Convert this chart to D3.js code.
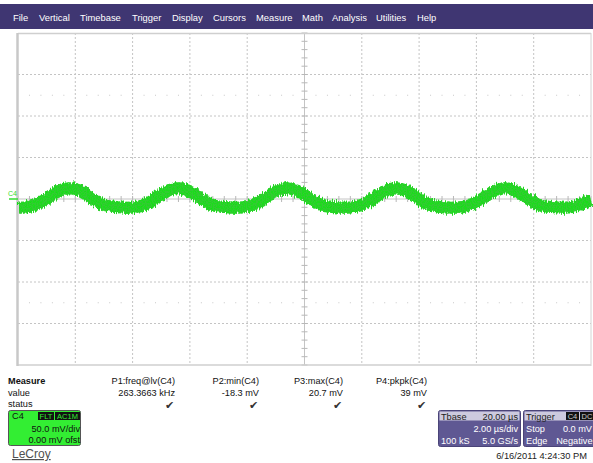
<!DOCTYPE html>
<html>
<head>
<meta charset="utf-8">
<script src="https://cdn.jsdelivr.net/npm/d3@7"></script>
<style>
  body { margin: 0; background: #fff; }
  svg { display: block; font-family: "Liberation Sans", Arial, sans-serif; }
</style>
</head>
<body>
<div id="scope"></div>
<script>
// menu
var menuItems = ["File", "Vertical", "Timebase", "Trigger", "Display", "Cursors", "Measure", "Math", "Analysis", "Utilities", "Help"];

// C4 trace, centre of the band in mV, one reading every 0.25 us (0 .. 20 us)
var sampleStepUs = 0.25;
var traceMv = [
  -10.5, -10.1, -8.3, -4.6, 0.4, 6.2, 10.9, 12.8, 12.0, 8.3,
  2.7, -3.2, -7.4, -9.1, -9.9, -10.5, -10.2, -8.7, -5.4, -0.7,
  5.0, 10.3, 12.8, 12.3, 9.3, 3.9, -2.1, -7.0, -8.8, -9.8,
  -10.5, -10.4, -9.1, -6.3, -1.7, 3.8, 9.4, 12.6, 12.5, 10.0,
  5.1, -0.9, -6.1, -8.6, -9.7, -10.3, -10.5, -9.5, -7.0, -2.7,
  2.7, 8.2, 12.2, 12.8, 10.7, 6.1, 0.4, -5.1, -8.2, -9.6,
  -10.2, -10.5, -9.9, -7.6, -3.6, 1.5, 7.2, 11.0, 13.0, 11.4,
  7.2, 1.5, -4.2, -7.8, -9.3, -10.1, -10.5, -10.1, -8.3, -4.5,
  -2.0
];

// measurement table
var measureNames = ["P1:freq@lv(C4)", "P2:min(C4)", "P3:max(C4)", "P4:pkpk(C4)"];
var measureValues = ["263.3663 kHz", "-18.3 mV", "20.7 mV", "39 mV"];

// settings
var timePerDivUs = 2;
var voltsPerDivMv = 50;
var divsX = 10, divsY = 8;

var W = 593, H = 463;
var svg = d3.select("#scope").append("svg")
    .attr("width", W)
    .attr("height", H);

var defs = svg.append("defs");
var f = defs.append("filter").attr("id", "noisy")
    .attr("x", "-2%").attr("y", "-60%").attr("width", "104%").attr("height", "220%");
f.append("feTurbulence").attr("type", "fractalNoise").attr("baseFrequency", "0.9 0.06")
    .attr("numOctaves", 2).attr("seed", 4).attr("result", "n");
f.append("feDisplacementMap").attr("in", "SourceGraphic").attr("in2", "n")
    .attr("scale", 7).attr("xChannelSelector", "B").attr("yChannelSelector", "G").attr("result", "d");
f.append("feTurbulence").attr("type", "fractalNoise").attr("baseFrequency", "0.8 0.6")
    .attr("numOctaves", 1).attr("seed", 11).attr("result", "n2");
f.append("feColorMatrix").attr("in", "n2").attr("type", "matrix")
    .attr("values", "0 0 0 0 0.03  0 0 0 0 0.6  0 0 0 0 0.03  9 0 0 0 -3.9").attr("result", "spots");
f.append("feComposite").attr("in", "spots").attr("in2", "d").attr("operator", "in").attr("result", "sp");
var fm = f.append("feMerge");
fm.append("feMergeNode").attr("in", "d");
fm.append("feMergeNode").attr("in", "sp");

// menu bar
svg.append("rect").attr("x", 0).attr("y", 4).attr("width", W).attr("height", 25).attr("fill", "#3f3672");
var menuX = [13, 39, 80, 132, 172, 213, 256, 302, 332, 376, 417];
svg.selectAll("text.menu")
  .data(menuItems)
  .enter().append("text")
  .attr("class", "menu")
  .attr("x", function(d, i) { return menuX[i]; })
  .attr("y", 20.5)
  .attr("fill", "#ffffff")
  .style("font-size", "9.4px")
  .text(function(d) { return d; });

// grid
var x = d3.scaleLinear().domain([0, divsX * timePerDivUs]).range([18, 591]);
var y = d3.scaleLinear().domain([-divsY / 2 * voltsPerDivMv, divsY / 2 * voltsPerDivMv]).range([365, 33]);

var grid = svg.append("g");
grid.selectAll("line.vx")
  .data(d3.range(1, divsX))
  .enter().append("line")
  .attr("x1", function(d) { return x(d * timePerDivUs); })
  .attr("x2", function(d) { return x(d * timePerDivUs); })
  .attr("y1", y.range()[1]).attr("y2", y.range()[0])
  .attr("stroke", "#c4c4c4")
  .attr("stroke-dasharray", function(d) { return d === divsX / 2 ? null : "2,2"; });
grid.selectAll("line.hy")
  .data(d3.range(1, divsY))
  .enter().append("line")
  .attr("y1", function(d) { return y((d - divsY / 2) * voltsPerDivMv); })
  .attr("y2", function(d) { return y((d - divsY / 2) * voltsPerDivMv); })
  .attr("x1", x.range()[0]).attr("x2", x.range()[1])
  .attr("stroke", "#c4c4c4")
  .attr("stroke-dasharray", function(d) { return d === divsY / 2 ? null : "2,2"; });

// minor ticks on centre axes
var minorX = d3.range(0, divsX * 5 + 1).map(function(i) { return i * timePerDivUs / 5; });
var minorY = d3.range(0, divsY * 5 + 1).map(function(i) { return -divsY / 2 * voltsPerDivMv + i * voltsPerDivMv / 5; });
grid.selectAll("line.tx")
  .data(minorX)
  .enter().append("line")
  .attr("x1", function(d) { return x(d); }).attr("x2", function(d) { return x(d); })
  .attr("y1", y(0) - 3).attr("y2", y(0) + 3)
  .attr("stroke", "#b8b8b8");
grid.selectAll("line.ty")
  .data(minorY)
  .enter().append("line")
  .attr("y1", function(d) { return y(d); }).attr("y2", function(d) { return y(d); })
  .attr("x1", x(10) - 3).attr("x2", x(10) + 3)
  .attr("stroke", "#b8b8b8");
// dotted rows
[-125, 125].forEach(function(mv) {
  grid.selectAll(null)
    .data(minorX.filter(function(d, i) { return i % 5 !== 0; }))
    .enter().append("rect")
    .attr("x", function(d) { return x(d) - 0.5; })
    .attr("y", y(mv) - 0.5)
    .attr("width", 1).attr("height", 1)
    .attr("fill", "#c8c8c8");
});

// border
grid.append("line").attr("x1", 18).attr("x2", 591).attr("y1", 33.5).attr("y2", 33.5).attr("stroke", "#cfcfcf").attr("stroke-width", 1.5);
grid.append("line").attr("x1", 18).attr("x2", 591).attr("y1", 365).attr("y2", 365).attr("stroke", "#cfcfcf").attr("stroke-width", 1.5);
grid.append("line").attr("x1", 17.5).attr("x2", 17.5).attr("y1", 33).attr("y2", 366).attr("stroke", "#c8c8c8").attr("stroke-width", 2.5);
grid.append("line").attr("x1", 591).attr("x2", 591).attr("y1", 33).attr("y2", 366).attr("stroke", "#d4d4d4").attr("stroke-width", 1);

// C4 marker
svg.append("text").attr("x", 8).attr("y", 196).attr("fill", "#33dd33").style("font-size", "7px").text("C4");
svg.append("line").attr("x1", 9).attr("x2", 18).attr("y1", y(0)).attr("y2", y(0)).attr("stroke", "#33dd33").attr("stroke-width", 1.5);

// trace
var line = d3.line()
    .x(function(d, i) { return x(i * sampleStepUs); })
    .y(function(d) { return y(d); })
    .curve(d3.curveCatmullRom);
svg.append("path")
  .datum(traceMv)
  .attr("d", line)
  .attr("fill", "none")
  .attr("stroke", "#1cdc1c")
  .attr("stroke-width", 12)
  .attr("filter", "url(#noisy)");

// measure table
var tbl = svg.append("g").style("font-size", "9.2px").attr("fill", "#111");
tbl.append("text").attr("x", 8).attr("y", 384).style("font-weight", "bold").text("Measure");
tbl.append("text").attr("x", 8).attr("y", 395.5).text("value");
tbl.append("text").attr("x", 8).attr("y", 407).text("status");
var colRight = [175, 259, 343, 427];
tbl.selectAll("text.mn")
  .data(measureNames)
  .enter().append("text")
  .attr("x", function(d, i) { return colRight[i]; })
  .attr("y", 384).attr("text-anchor", "end")
  .text(function(d) { return d; });
tbl.selectAll("text.mv")
  .data(measureValues)
  .enter().append("text")
  .attr("x", function(d, i) { return colRight[i]; })
  .attr("y", 395.5).attr("text-anchor", "end")
  .text(function(d) { return d; });
tbl.selectAll("text.ms")
  .data(measureNames)
  .enter().append("text")
  .attr("x", function(d, i) { return colRight[i] - 1; })
  .attr("y", 408.5).attr("text-anchor", "end")
  .attr("fill", "#333")
  .style("font-size", "11px")
  .text("\u2714");

// C4 channel box
var cb = svg.append("g").style("font-size", "9.2px");
cb.append("rect").attr("x", 8.5).attr("y", 410.5).attr("width", 72).attr("height", 35).attr("rx", 2)
  .attr("fill", "#33ee33").attr("stroke", "#555");
cb.append("text").attr("x", 12).attr("y", 419).attr("fill", "#111").text("C4");
cb.append("rect").attr("x", 38).attr("y", 412).attr("width", 16).attr("height", 8).attr("fill", "#111");
cb.append("rect").attr("x", 55).attr("y", 412).attr("width", 25).attr("height", 8).attr("fill", "#111");
cb.append("text").attr("x", 46).attr("y", 419).attr("text-anchor", "middle").attr("fill", "#33ee33").style("font-size", "7.5px").text("FLT");
cb.append("text").attr("x", 67.5).attr("y", 419).attr("text-anchor", "middle").attr("fill", "#33ee33").style("font-size", "7.5px").text("AC1M");
cb.append("text").attr("x", 80).attr("y", 432).attr("text-anchor", "end").attr("fill", "#111").text("50.0 mV/div");
cb.append("text").attr("x", 80).attr("y", 443).attr("text-anchor", "end").attr("fill", "#111").text("0.00 mV ofst");

// LeCroy
svg.append("text").attr("x", 12).attr("y", 458).attr("fill", "#505050").style("font-size", "12px")
  .style("text-decoration", "underline").text("LeCroy");

// Tbase box
var tb = svg.append("g").style("font-size", "9.2px");
tb.append("rect").attr("x", 438.5).attr("y", 410.5).attr("width", 82).attr("height", 36).attr("rx", 2)
  .attr("fill", "#5f5893").attr("stroke", "#4a4478");
tb.append("rect").attr("x", 439.5).attr("y", 411.5).attr("width", 80).attr("height", 9).attr("fill", "#cdcade");
tb.append("text").attr("x", 441).attr("y", 419.5).attr("fill", "#222").text("Tbase");
tb.append("text").attr("x", 518).attr("y", 419.5).attr("text-anchor", "end").attr("fill", "#222").text("20.00 \u00b5s");
tb.append("text").attr("x", 518).attr("y", 432).attr("text-anchor", "end").attr("fill", "#fff").text("2.00 \u00b5s/div");
tb.append("text").attr("x", 441).attr("y", 443.5).attr("fill", "#fff").text("100 kS");
tb.append("text").attr("x", 518).attr("y", 443.5).attr("text-anchor", "end").attr("fill", "#fff").text("5.0 GS/s");

// Trigger box
var tg = svg.append("g").style("font-size", "9.2px");
tg.append("rect").attr("x", 523.5).attr("y", 410.5).attr("width", 75).attr("height", 36).attr("rx", 2)
  .attr("fill", "#5f5893").attr("stroke", "#4a4478");
tg.append("rect").attr("x", 524.5).attr("y", 411.5).attr("width", 70).attr("height", 9).attr("fill", "#cdcade");
tg.append("text").attr("x", 526).attr("y", 419.5).attr("fill", "#222").text("Trigger");
tg.append("rect").attr("x", 566).attr("y", 412).attr("width", 13).attr("height", 8).attr("fill", "#111");
tg.append("rect").attr("x", 580).attr("y", 412).attr("width", 14).attr("height", 8).attr("fill", "#111");
tg.append("text").attr("x", 572.5).attr("y", 419).attr("text-anchor", "middle").attr("fill", "#ccc").style("font-size", "7.5px").text("C4");
tg.append("text").attr("x", 587).attr("y", 419).attr("text-anchor", "middle").attr("fill", "#ccc").style("font-size", "7.5px").text("DC");
tg.append("text").attr("x", 526).attr("y", 432).attr("fill", "#fff").text("Stop");
tg.append("text").attr("x", 592).attr("y", 432).attr("text-anchor", "end").attr("fill", "#fff").text("0.0 mV");
tg.append("text").attr("x", 526).attr("y", 443.5).attr("fill", "#fff").text("Edge");
tg.append("text").attr("x", 592.5).attr("y", 443.5).attr("text-anchor", "end").attr("fill", "#fff").text("Negative");

// date
svg.append("text").attr("x", 587).attr("y", 459).attr("text-anchor", "end").attr("fill", "#222")
  .style("font-size", "9.3px").text("6/16/2011 4:24:30 PM");
</script>
</body>
</html>
